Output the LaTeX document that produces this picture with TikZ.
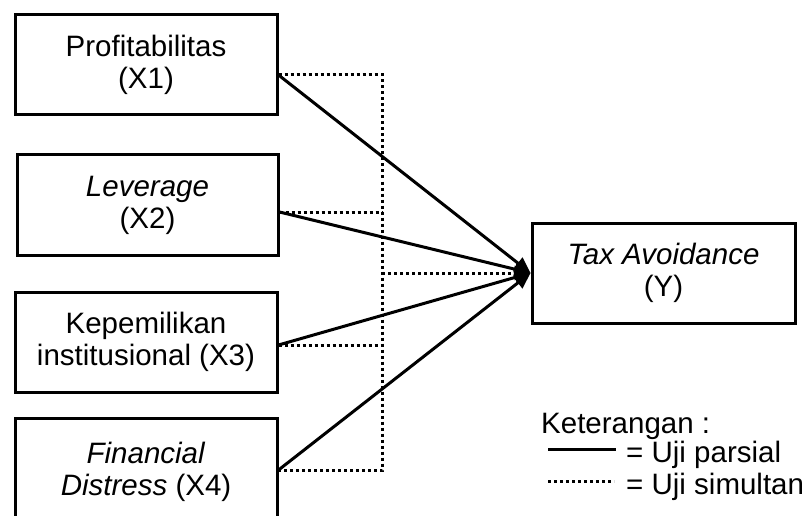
\documentclass[tikz,border=0pt]{standalone}
\usepackage{fontspec}
\setmainfont{Liberation Sans}
\usetikzlibrary{arrows.meta,calc}
\begin{document}
\begin{tikzpicture}[x=1pt,y=-1pt,
  box/.style={draw,line width=3pt,minimum width=262pt,minimum height=100pt,inner sep=0pt,align=center,font=\fontsize{29.5}{32}\selectfont},
  partial/.style={line width=3pt,-{Triangle[length=16pt,width=14pt]}},
  simul/.style={line width=3pt,dash pattern=on 3pt off 3pt},
  lbl/.style={inner sep=0pt,font=\fontsize{29.5}{32}\selectfont}]
\useasboundingbox (0,0) rectangle (806,516);
\clip (0,0) rectangle (806,516);
\node[box] (x1) at (146,64.5) {Profitabilitas\\(X1)};
\node[box,minimum width=261pt] (x2) at (147.5,205) {\textit{Leverage}\\(X2)};
\node[box] (x3) at (146,342) {Kepemilikan\\institusional (X3)};
\node[box,minimum height=108pt] (x4) at (146,472) {\textit{Financial}\\\textit{Distress} (X4)};
\node[box,minimum width=263pt] (y) at (663.5,273) {\textit{Tax Avoidance}\\(Y)};
\coordinate (p1) at ([yshift=-10.5pt]x1.east);
\coordinate (p2) at ([yshift=-7pt]x2.east);
\coordinate (p3) at ([yshift=-3pt]x3.east);
\coordinate (p4) at ([yshift=2pt]x4.east);
\coordinate (hub) at (382,273);
\draw[simul] (p1) -- (p1 -| hub) -- (p4 -| hub) -- (p4);
\draw[simul] (p2) -- (p2 -| hub);
\draw[simul] (p3) -- (p3 -| hub);
\draw[simul,-{Triangle[length=16pt,width=14pt]}] (hub) -- (y.west);
\draw[partial] (p1) -- (y.west);
\draw[partial] (p2) -- (y.west);
\draw[partial] (p3) -- (y.west);
\draw[partial] (p4) -- (y.west);
\node[lbl,anchor=base west] (ket) at (541,433) {Keterangan :};
\node[lbl,anchor=base west] (parsial) at (626,462) {= Uji parsial};
\node[lbl,anchor=base west] (simultan) at (626,494) {= Uji simultan};
\coordinate (la) at (548,449);
\coordinate (lb) at (616,449);
\coordinate (lc) at (548,481);
\coordinate (ld) at (614,481);
\draw[line width=3pt] (la) -- (lb);
\draw[simul] (lc) -- (ld);
\end{tikzpicture}
\end{document}
